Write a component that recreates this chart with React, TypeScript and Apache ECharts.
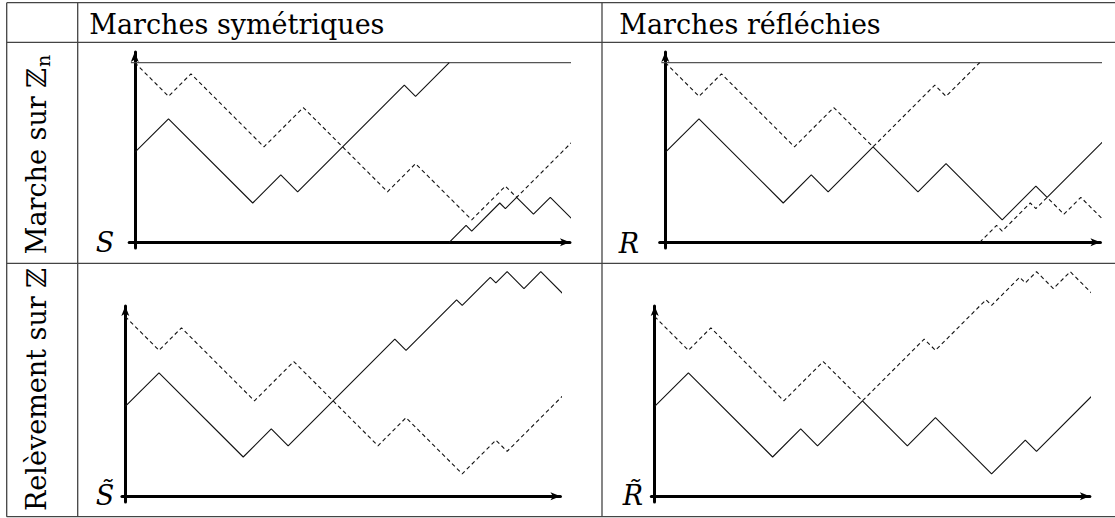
import React, { useEffect, useRef } from 'react';
import * as echarts from 'echarts';

// ---------- data (turning points of the walks: [step, height]) ----------
const colHeaders = ['Marches symétriques', 'Marches réfléchies'];
const rowLabelMain = ['Marche sur ℤ', 'Relèvement sur ℤ'];
const rowLabelSub = 'n';
const panelLabels = ['S', 'R', 'S̃', 'R̃'];
const levelN = 32;

// Symmetric walk on Z_n (wrapped)
const symSolidA = [[0, 16], [6, 22], [21, 7], [26, 12], [29, 9], [48, 28], [50, 26], [56, 32]];
const symSolidB = [[56, 0], [59, 3], [60, 2], [65, 7], [66, 6], [68, 8], [71, 5], [74, 8], [78, 4]];
const symDashed = [[0, 32], [6, 26], [10, 30], [23, 17], [30, 24], [45, 9], [50, 14], [60, 4], [66, 10], [68, 8], [78, 18]];

// Reflected walk on Z_n (wrapped)
const refSolid = [[0, 16], [6, 22], [21, 7], [26, 12], [29, 9], [37, 17], [45, 9], [50, 14], [60, 4], [66, 10], [68, 8], [78, 18]];
const refDashedA = [[0, 32], [6, 26], [10, 30], [23, 17], [30, 24], [37, 17], [48, 28], [50, 26], [56, 32]];
const refDashedB = [[56, 0], [59, 3], [60, 2], [65, 7], [66, 6], [68, 8], [71, 5], [74, 8], [78, 4]];

// Lifts on Z
const liftSymSolid = [[0, 16], [6, 22], [21, 7], [26, 12], [29, 9], [48, 28], [50, 26], [59, 35], [60, 34], [65, 39], [66, 38], [68, 40], [71, 37], [74, 40], [78, 36]];
const liftSymDashed = [[0, 32], [6, 26], [10, 30], [23, 17], [30, 24], [45, 9], [50, 14], [60, 4], [66, 10], [68, 8], [78, 18]];
const liftRefSolid = [[0, 16], [6, 22], [21, 7], [26, 12], [29, 9], [37, 17], [45, 9], [50, 14], [60, 4], [66, 10], [68, 8], [78, 18]];
const liftRefDashed = [[0, 32], [6, 26], [10, 30], [23, 17], [30, 24], [37, 17], [48, 28], [50, 26], [59, 35], [60, 34], [65, 39], [66, 38], [68, 40], [71, 37], [74, 40], [78, 36]];

const levelLineX = [-0.7, 78.9];

// ---------- layout ----------
const UNIT = 5.615;
const FONT = 'DejaVu Serif';

const panels = [
  { x0: 134.8, y0: 242.3, xmin: -1, solids: [symSolidA, symSolidB], dashed: [symDashed], level: true, label: panelLabels[0], lx: 105, ly: 242 },
  { x0: 665.3, y0: 242.3, xmin: -1, solids: [refSolid], dashed: [refDashedA, refDashedB], level: true, label: panelLabels[1], lx: 629, ly: 243 },
  { x0: 125.3, y0: 496.3, xmin: -0.6, solids: [liftSymSolid], dashed: [liftSymDashed], level: false, label: panelLabels[2], lx: 105, ly: 495 },
  { x0: 654.7, y0: 496.3, xmin: -0.6, solids: [liftRefSolid], dashed: [liftRefDashed], level: false, label: panelLabels[3], lx: 633, ly: 495 },
];
const XMAX = 77.5;
const YMIN = -1;
const YMAX = 33.9;

function buildOption() {
  const grid: any[] = [];
  const xAxis: any[] = [];
  const yAxis: any[] = [];
  const series: any[] = [];
  panels.forEach((p, i) => {
    grid.push({
      left: p.x0 + p.xmin * UNIT,
      width: (XMAX - p.xmin) * UNIT,
      top: p.y0 - YMAX * UNIT,
      height: (YMAX - YMIN) * UNIT,
      containLabel: false,
    });
    const axisCommon = {
      type: 'value',
      axisLine: {
        show: true,
        onZero: true,
        symbol: ['none', 'arrow'],
        symbolSize: [6, 10],
        lineStyle: { color: '#000', width: 3 },
      },
      axisTick: { show: false },
      axisLabel: { show: false },
      splitLine: { show: false },
    };
    xAxis.push({ ...axisCommon, gridIndex: i, min: p.xmin, max: XMAX });
    yAxis.push({ ...axisCommon, gridIndex: i, min: YMIN, max: YMAX });
    const common = {
      type: 'line',
      xAxisIndex: i,
      yAxisIndex: i,
      showSymbol: false,
      symbol: 'none',
      clip: false,
      silent: true,
    };
    if (p.level) {
      series.push({
        ...common,
        data: levelLineX.map((x) => [x, levelN]),
        lineStyle: { color: '#555', width: 1.2 },
        z: 1,
      });
    }
    p.solids.forEach((d) => {
      series.push({ ...common, data: d, lineStyle: { color: '#111', width: 1.1 }, z: 3 });
    });
    p.dashed.forEach((d) => {
      series.push({ ...common, data: d, lineStyle: { color: '#111', width: 1.1, type: [4, 3] }, z: 3 });
    });
  });

  const lineStyle = { stroke: '#444', lineWidth: 1.3 };
  const graphic: any[] = [];
  [2.7, 42.3, 263.3, 516.7].forEach((y) => {
    graphic.push({ type: 'line', shape: { x1: 6.7, y1: y, x2: 1115, y2: y }, style: lineStyle, silent: true });
  });
  [6.7, 77.7, 602].forEach((x) => {
    graphic.push({ type: 'line', shape: { x1: x, y1: 2.7, x2: x, y2: 516.7 }, style: lineStyle, silent: true });
  });

  const txt = (text: string, x: number, y: number, size: number, align: string, italic = false, rotation = 0) => ({
    type: 'text',
    x,
    y,
    rotation,
    silent: true,
    style: {
      text,
      fill: '#000',
      fontSize: size,
      fontFamily: FONT,
      fontStyle: italic ? 'italic' : 'normal',
      fontWeight: 'normal',
      align,
      verticalAlign: 'middle',
      textAlign: align,
      textVerticalAlign: 'middle',
    },
  });

  graphic.push(txt(colHeaders[0], 89.3, 24, 27, 'left'));
  graphic.push(txt(colHeaders[1], 619.3, 24, 27, 'left'));
  graphic.push(txt(rowLabelMain[0], 36, 68, 27, 'right', false, Math.PI / 2));
  graphic.push(txt(rowLabelSub, 42.5, 67, 19, 'left', false, Math.PI / 2));
  graphic.push(txt(rowLabelMain[1], 36, 389.5, 27, 'center', false, Math.PI / 2));
  panels.forEach((p) => {
    graphic.push(txt(p.label, p.lx, p.ly, 27, 'center', true));
  });

  return {
    animation: false,
    backgroundColor: '#fff',
    grid,
    xAxis,
    yAxis,
    series,
    graphic,
  };
}

export default function App() {
  const ref = useRef<HTMLDivElement>(null);
  useEffect(() => {
    if (!ref.current) return;
    const chart = echarts.init(ref.current, undefined, { renderer: 'svg' });
    chart.setOption(buildOption() as any);
    return () => chart.dispose();
  }, []);
  return (
    <div
      ref={ref}
      style={{ position: 'absolute', left: 0, top: 0, width: 1115, height: 518, background: '#fff' }}
    />
  );
}
